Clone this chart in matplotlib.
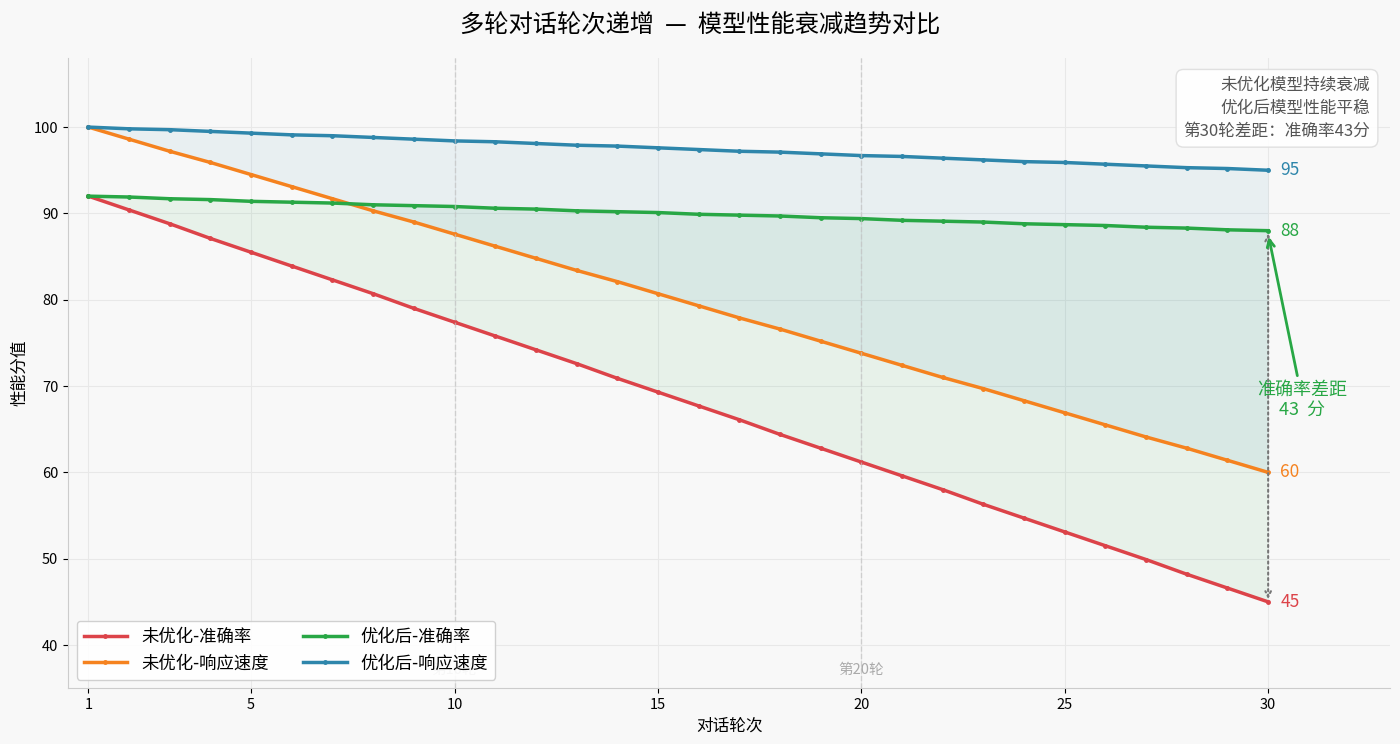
import numpy as np
import matplotlib
matplotlib.use("Agg")
import matplotlib.pyplot as plt

plt.rcParams['font.family'] = ['Noto Sans CJK SC', 'DejaVu Sans']
plt.rcParams['axes.unicode_minus'] = False

# 对话轮次
rounds = list(range(1, 31))

# 未优化模型
base_acc = [92.0, 90.4, 88.8, 87.1, 85.5, 83.9, 82.3, 80.7, 79.0, 77.4,
            75.8, 74.2, 72.6, 70.9, 69.3, 67.7, 66.1, 64.4, 62.8, 61.2,
            59.6, 58.0, 56.3, 54.7, 53.1, 51.5, 49.9, 48.2, 46.6, 45.0]
base_speed = [100.0, 98.6, 97.2, 95.9, 94.5, 93.1, 91.7, 90.3, 89.0, 87.6,
              86.2, 84.8, 83.4, 82.1, 80.7, 79.3, 77.9, 76.6, 75.2, 73.8,
              72.4, 71.0, 69.7, 68.3, 66.9, 65.5, 64.1, 62.8, 61.4, 60.0]

# 优化后模型
opt_acc = [92.0, 91.9, 91.7, 91.6, 91.4, 91.3, 91.2, 91.0, 90.9, 90.8,
           90.6, 90.5, 90.3, 90.2, 90.1, 89.9, 89.8, 89.7, 89.5, 89.4,
           89.2, 89.1, 89.0, 88.8, 88.7, 88.6, 88.4, 88.3, 88.1, 88.0]
opt_speed = [100.0, 99.8, 99.7, 99.5, 99.3, 99.1, 99.0, 98.8, 98.6, 98.4,
             98.3, 98.1, 97.9, 97.8, 97.6, 97.4, 97.2, 97.1, 96.9, 96.7,
             96.6, 96.4, 96.2, 96.0, 95.9, 95.7, 95.5, 95.3, 95.2, 95.0]

c_red = '#dc4349'
c_orange = '#f5821f'
c_green = '#28a745'
c_blue = '#2e86ab'

fig = plt.figure(figsize=(14, 7.44), dpi=100, facecolor='#f8f8f8')
ax = fig.add_axes([0.0486, 0.075, 0.9444, 0.847])
ax.set_facecolor('#f8f8f8')

x = np.array(rounds)
ax.fill_between(x, base_acc, opt_acc, color=c_green, alpha=0.08, lw=0)
ax.fill_between(x, base_speed, opt_speed, color=c_blue, alpha=0.08, lw=0)

ax.plot(x, base_acc, color=c_red, lw=2.5, marker='o', ms=2.5, label='未优化-准确率')
ax.plot(x, base_speed, color=c_orange, lw=2.5, marker='o', ms=2.5, label='未优化-响应速度')
ax.plot(x, opt_acc, color=c_green, lw=2.5, marker='o', ms=2.5, label='优化后-准确率')
ax.plot(x, opt_speed, color=c_blue, lw=2.5, marker='o', ms=2.5, label='优化后-响应速度')

# 关键轮次
for r in [10, 20]:
    ax.axvline(r, color='#c4c4c4', ls='--', lw=1, alpha=0.7)
    ax.text(r, 37.1, '第%d轮' % r, color='#aaaaaa', fontsize=10.5, ha='center', va='center')

# 末端数值
ends = [(opt_speed[-1], c_blue), (opt_acc[-1], c_green),
        (base_speed[-1], c_orange), (base_acc[-1], c_red)]
for v, c in ends:
    ax.text(30.3, v, '%d' % v, color=c, fontsize=12.5, va='center', ha='left')

# 差距标注
ax.annotate('', xy=(30, base_acc[-1]), xytext=(30, opt_acc[-1]),
            arrowprops=dict(arrowstyle='<->', color='#777777', lw=1.5, ls=':'))
ax.annotate('准确率差距\n43  分', xy=(30.0, 87.6), xytext=(30.84, 68.4),
            color=c_green, fontsize=13, ha='center', va='center', linespacing=1.1,
            arrowprops=dict(arrowstyle='->', color=c_green, lw=2))

ax.text(0.985, 0.97, '未优化模型持续衰减\n优化后模型性能平稳\n第30轮差距：准确率43分',
        transform=ax.transAxes, ha='right', va='top', multialignment='right',
        fontsize=12, color='#555555', linespacing=1.45,
        bbox=dict(boxstyle='round,pad=0.45', fc='white', ec='#dddddd', alpha=0.9))

ax.set_xlim(0.5, 33)
ax.set_ylim(35, 108)
ax.set_xticks([1, 5, 10, 15, 20, 25, 30])
ax.set_yticks([40, 50, 60, 70, 80, 90, 100])
ax.tick_params(labelsize=10.5)
ax.grid(True, color='#e8e8e8', lw=0.8)
ax.set_axisbelow(True)
for s in ['top', 'right']:
    ax.spines[s].set_visible(False)
for s in ['left', 'bottom']:
    ax.spines[s].set_color('#cccccc')

ax.set_xlabel('对话轮次', fontsize=12)
ax.set_ylabel('性能分值', fontsize=12)
fig.suptitle('多轮对话轮次递增  —  模型性能衰减趋势对比', fontsize=17.5, y=0.983)

ax.legend(loc='lower left', ncol=2, fontsize=12.5, frameon=True, facecolor='white',
          edgecolor='#cccccc', framealpha=0.9, handlelength=2.5, columnspacing=2)

fig.savefig('out.png', dpi=100, facecolor=fig.get_facecolor())
